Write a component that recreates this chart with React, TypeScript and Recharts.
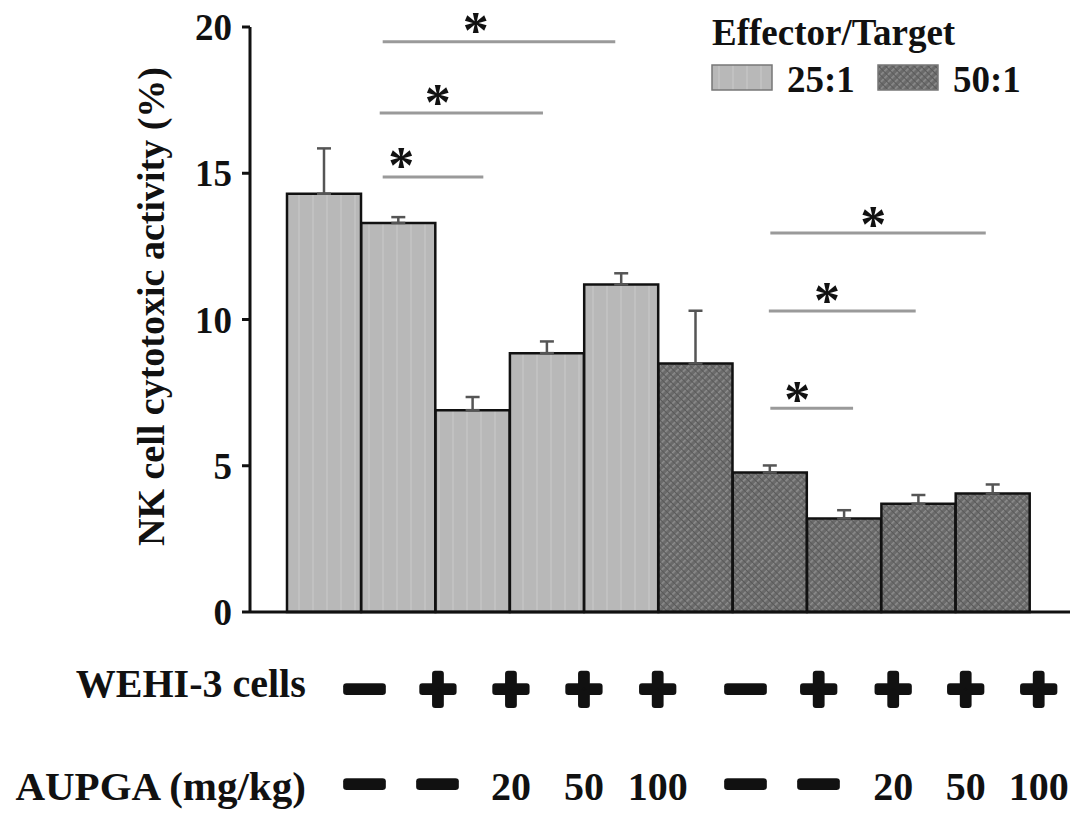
import React from 'react';
import { BarChart, Bar, XAxis, YAxis, Cell, ErrorBar, ReferenceLine, ReferenceDot, Legend } from 'recharts';

// effector/target ratio of each bar
const ratios = ['25:1', '25:1', '25:1', '25:1', '25:1', '50:1', '50:1', '50:1', '50:1', '50:1'];
// NK cell cytotoxic activity (%)
const activity = [14.3, 13.3, 6.9, 8.85, 11.2, 8.5, 4.77, 3.2, 3.7, 4.05];
// upper error (SD)
const sd = [1.55, 0.2, 0.45, 0.4, 0.38, 1.8, 0.24, 0.28, 0.3, 0.31];

const wehiRow = ['\u2212', '+', '+', '+', '+', '\u2212', '+', '+', '+', '+'];
const aupgaRow = ['\u2212', '\u2212', '20', '50', '100', '\u2212', '\u2212', '20', '50', '100'];
// where the table columns sit on the 0..11 position scale
const tablePos = [1.54, 2.52, 3.5, 4.48, 5.47, 6.65, 7.63, 8.63, 9.6, 10.58];

const yTicks = [0, 5, 10, 15, 20];
const legendItems = ['25:1', '50:1'];

// significance bars: from, to, height, star x, star y
const sigFrom = [1.78, 1.74, 1.78, 6.98, 6.96, 6.98];
const sigTo = [4.9, 3.93, 3.13, 9.87, 8.93, 8.09];
const sigY = [19.5, 17.06, 14.87, 12.96, 10.29, 6.97];
const starX = [3.03, 2.52, 2.03, 8.36, 7.74, 7.34];
const starY = [20.15, 17.68, 15.52, 13.5, 10.91, 7.52];

const data = activity.map((v, i) => ({ id: i, slot: i + 1, ratio: ratios[i], activity: v, err: [0, sd[i]] }));

const serif = '"Liberation Serif", "Times New Roman", serif';
const fillFor = (r: string) => (r === '25:1' ? 'url(#lightFill)' : 'url(#darkFill)');

// heavy +/− marks of the treatment table
const SignText = ({ x, y, children }: any) => {
  const minus = children === '\u2212';
  return (
    <text x={x} y={y} textAnchor="middle" fontFamily='"DejaVu Sans", sans-serif' fontWeight="bold" fontSize={50}
      fill="#111" stroke="#111" strokeWidth={6} strokeLinejoin="round"
      {...(minus ? { textLength: 48, lengthAdjust: 'spacingAndGlyphs' } : {})}>{children}</text>
  );
};

const TableTick = (props: any) => {
  const { x, y, index } = props;
  const r2 = aupgaRow[index];
  return (
    <g>
      {index === 0 && (
        <>
          <text x={x - 59} y={y + 85} textAnchor="end" fontFamily={serif} fontWeight="bold" fontSize={40} fill="#111">WEHI-3 cells</text>
          <text x={x - 59} y={y + 188} textAnchor="end" fontFamily={serif} fontWeight="bold" fontSize={41} fill="#111">AUPGA (mg/kg)</text>
        </>
      )}
      <SignText x={x} y={y + 93}>{wehiRow[index]}</SignText>
      {r2 === '\u2212' ? (
        <SignText x={x} y={y + 188}>{r2}</SignText>
      ) : (
        <text x={x} y={y + 188} textAnchor="middle" fontFamily={serif} fontWeight="bold" fontSize={40} fill="#111">{r2}</text>
      )}
    </g>
  );
};

const LegendBox = () => (
  <svg width={387} height={110}>
    <text x={12} y={45} fontFamily={serif} fontWeight="bold" fontSize={37} fill="#111">Effector/Target</text>
    {legendItems.map((item, i) => (
      <g key={item}>
        <rect x={12 + i * 166} y={65} width={60} height={25} fill={fillFor(item)} stroke="#777" strokeWidth={1.5} />
        <text x={87 + i * 166} y={92} fontFamily={serif} fontWeight="bold" fontSize={37} fill="#111">{item}</text>
      </g>
    ))}
  </svg>
);

export default function App() {
  return (
    <div style={{ position: 'absolute', left: 0, top: 0, width: 1087, height: 813, background: '#fff' }}>
      <BarChart width={1087} height={813} data={data} barCategoryGap={0}
        margin={{ top: 27, right: 17, bottom: 11, left: 0 }}>
        <defs>
          <pattern id="lightFill" patternUnits="userSpaceOnUse" width={14} height={14}>
            <rect width={14} height={14} fill="#b8b8b8" />
            <rect x={4} width={2} height={14} fill="#c1c1c1" />
          </pattern>
          <pattern id="darkFill" patternUnits="userSpaceOnUse" width={5} height={5} patternTransform="rotate(45)">
            <rect width={5} height={5} fill="#6a6a6a" />
            <rect width={1.6} height={5} fill="#8c8c8c" />
            <rect width={5} height={1} fill="#5a5a5a" />
          </pattern>
        </defs>
        <XAxis xAxisId="cat" dataKey="id" hide height={0} padding={{ left: 37, right: 40 }} />
        <XAxis xAxisId="pos" dataKey="slot" type="number" domain={[0, 11]} allowDataOverflow ticks={tablePos} interval={0}
          height={190} tickLine={false} tickSize={0} tickMargin={0} tick={<TableTick />}
          axisLine={{ stroke: '#111', strokeWidth: 3 }} />
        <YAxis width={250} domain={[0, 20]} ticks={yTicks} interval={0} tickSize={8} tickMargin={10}
          axisLine={{ stroke: '#111', strokeWidth: 3 }} tickLine={{ stroke: '#111', strokeWidth: 3 }}
          tick={{ fontFamily: serif, fontWeight: 'bold', fontSize: 37, fill: '#111' }}
          label={({ viewBox }: any) => {
            const cx = viewBox.x + 151;
            const cy = viewBox.y + viewBox.height / 2 - 13;
            return (
              <text x={cx} y={cy} transform={`rotate(-90 ${cx} ${cy})`} textAnchor="middle" dominantBaseline="central"
                fontFamily={serif} fontWeight="bold" fontSize={38} fill="#111">NK cell cytotoxic activity (%)</text>
            );
          }} />
        <Legend layout="vertical" align="center" verticalAlign="middle" content={<LegendBox />}
          wrapperStyle={{ top: 0, left: 700, width: 387, height: 110 }} />
        <Bar xAxisId="cat" dataKey="activity" stroke="#111" strokeWidth={2.5} isAnimationActive={false}>
          {data.map((d) => (
            <Cell key={d.id} fill={fillFor(d.ratio)} />
          ))}
          <ErrorBar dataKey="err" direction="y" width={7} stroke="#555" strokeWidth={2.5} isAnimationActive={false} />
        </Bar>
        {sigFrom.map((x1, i) => (
          <ReferenceLine key={`s${i}`} xAxisId="pos" ifOverflow="visible" stroke="#9a9a9a" strokeWidth={3}
            segment={[{ x: x1, y: sigY[i] }, { x: sigTo[i], y: sigY[i] }]} />
        ))}
        {starX.map((x, i) => (
          <ReferenceDot key={`a${i}`} xAxisId="pos" x={x} y={starY[i]} r={0} ifOverflow="visible"
            shape={(p: any) => (
              <text x={p.cx} y={p.cy + 25} textAnchor="middle" fontFamily={serif} fontWeight="bold" fontSize={52} fill="#111">*</text>
            )} />
        ))}
      </BarChart>
    </div>
  );
}
